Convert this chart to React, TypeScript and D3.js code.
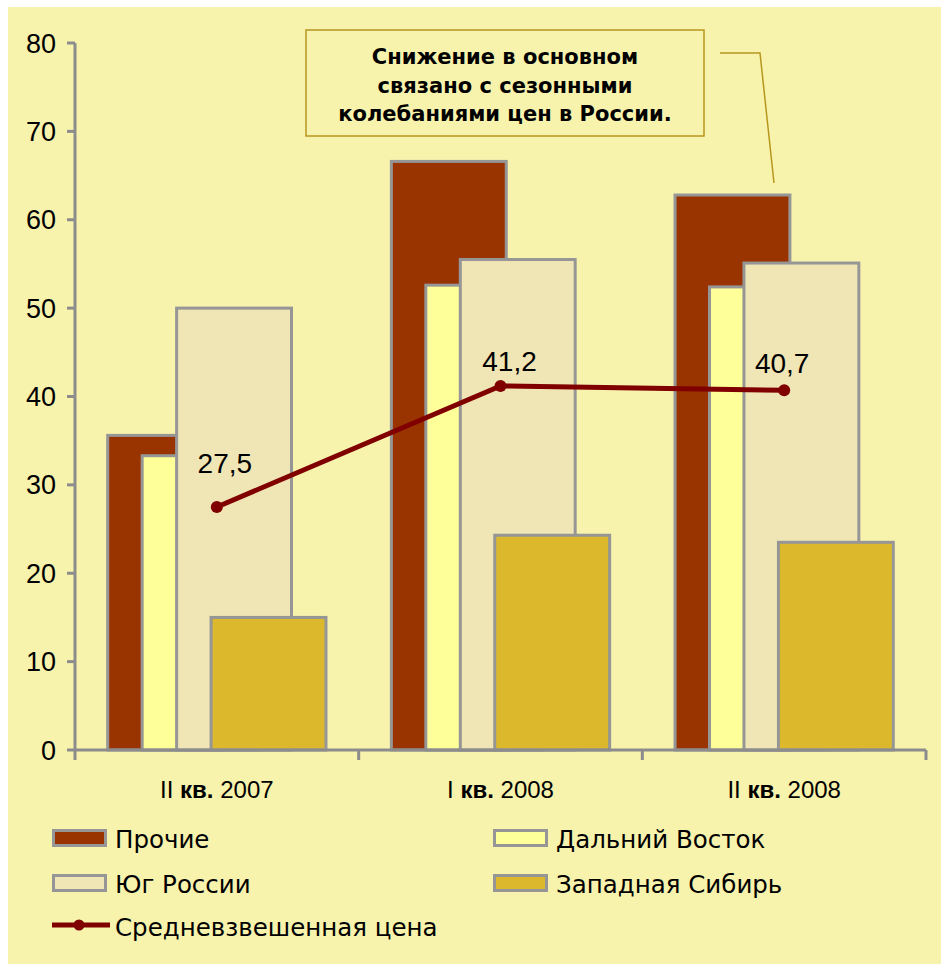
import React from "react";
import * as d3 from "d3";

const categories = ["II кв. 2007", "I кв. 2008", "II кв. 2008"];
const catPrefix = ["II ", "I ", "II "];
const catYear = [" 2007", " 2008", " 2008"];
const seriesNames = ["Прочие", "Дальний Восток", "Юг России", "Западная Сибирь"];
const prochie = [35.6, 66.6, 62.8];
const dalniy = [33.3, 52.6, 52.4];
const yug = [50.0, 55.5, 55.1];
const zapSib = [15.0, 24.3, 23.5];
const avgPrice = [27.5, 41.2, 40.7];
const avgLabels = ["27,5", "41,2", "40,7"];
const lineName = "Средневзвешенная цена";
const yTicks = [0, 10, 20, 30, 40, 50, 60, 70, 80];
const noteLines = ["Снижение в основном", "связано с сезонными", "колебаниями цен в России."];

const colors = ["#993300", "#FFFF99", "#F0E5B4", "#DCB92C"];
const labelDx = [8, 9, -2];
const labelDy = [34, 15, 17];

export default function App() {
  const W = 941, H = 964;
  const x = d3.scaleBand<string>().domain(categories).range([75, 926]).padding(0);
  const y = d3.scaleLinear().domain([0, 80]).range([750, 43]);
  const band = x.bandwidth();
  const bw = band * 0.405;
  const step = bw * 0.3;
  const groupW = bw + 3 * step;
  const series = [prochie, dalniy, yug, zapSib];
  const barX = (ci: number, si: number) => (x(categories[ci]) as number) + (band - groupW) / 2 + si * step;
  const cx = (ci: number) => (x(categories[ci]) as number) + band / 2;
  const line = d3.line<number>().x((_, i) => cx(i)).y((d) => y(d));
  const gray = "#969696";
  const axisGray = "#8C8C8C";
  const num = "'Liberation Sans', Arial, sans-serif";
  const leg = "'DejaVu Sans', sans-serif";

  const legendItems = [
    { name: seriesNames[0], color: colors[0], lx: 52, ly: 838 },
    { name: seriesNames[1], color: colors[1], lx: 493, ly: 838 },
    { name: seriesNames[2], color: colors[2], lx: 52, ly: 883 },
    { name: seriesNames[3], color: colors[3], lx: 493, ly: 883 },
  ];

  return (
    <svg width={W} height={H} style={{ position: "absolute", left: 0, top: 0, display: "block" }}>
      <rect x={0} y={0} width={W} height={H} fill="#ffffff" />
      <rect x={8} y={7} width={933} height={957} fill="#F7F2AC" />

      {/* bars */}
      {series.map((vals, si) =>
        vals.map((v, ci) => (
          <rect
            key={`${si}-${ci}`}
            x={barX(ci, si)}
            y={y(v)}
            width={bw}
            height={y(0) - y(v)}
            fill={colors[si]}
            stroke={gray}
            strokeWidth={3}
          />
        ))
      )}

      {/* axes */}
      <g stroke={axisGray} strokeWidth={3} fill="none">
        <line x1={75} x2={75} y1={y(80)} y2={y(0)} />
        {yTicks.map((t) => (
          <line key={t} x1={67} x2={75} y1={y(t)} y2={y(t)} />
        ))}
        <line x1={75} x2={926} y1={y(0)} y2={y(0)} />
        {[...categories.map((c) => x(c) as number), 926].map((tx, i) => (
          <line key={i} x1={tx} x2={tx} y1={y(0)} y2={y(0) + 10} />
        ))}
      </g>
      {yTicks.map((t) => (
        <text key={t} x={56} y={y(t) + 9.5} textAnchor="end" fontFamily={num} fontSize={27} fill="#000">
          {t}
        </text>
      ))}
      {categories.map((c, i) => (
        <text key={c} x={cx(i)} y={798} textAnchor="middle" fontFamily={num} fontSize={24} fill="#000">
          {catPrefix[i]}
          <tspan fontWeight="bold">кв.</tspan>
          {catYear[i]}
        </text>
      ))}

      {/* line */}
      <path d={line(avgPrice) || ""} fill="none" stroke="#800000" strokeWidth={5} />
      {avgPrice.map((v, i) => (
        <circle key={i} cx={cx(i)} cy={y(v)} r={6} fill="#800000" />
      ))}
      {avgPrice.map((v, i) => (
        <text key={i} x={cx(i) + labelDx[i]} y={y(v) - labelDy[i]} textAnchor="middle" fontFamily={num} fontSize={28} fill="#000">
          {avgLabels[i]}
        </text>
      ))}

      {/* annotation */}
      <rect x={306} y={30} width={398} height={106} fill="#F7F2AC" stroke="#B8961E" strokeWidth={1.5} />
      {noteLines.map((l, i) => (
        <text key={i} x={505} y={64 + i * 28.5} textAnchor="middle" fontFamily={leg} fontWeight="bold" fontSize={21} fill="#000">
          {l}
        </text>
      ))}
      <polyline points="720,53 760,53 774,183" fill="none" stroke="#B8961E" strokeWidth={1.5} />

      {/* legend */}
      {legendItems.map((it) => (
        <g key={it.name}>
          <rect x={it.lx + 1.5} y={it.ly - 7.5} width={52} height={15} fill={it.color} stroke={gray} strokeWidth={3} />
          <text x={it.lx + 63} y={it.ly + 10} fontFamily={leg} fontSize={24.5} fill="#000">
            {it.name}
          </text>
        </g>
      ))}
      <line x1={52} x2={110} y1={925} y2={925} stroke="#800000" strokeWidth={5} />
      <circle cx={79} cy={925} r={5.5} fill="#800000" />
      <text x={115} y={936} fontFamily={leg} fontSize={24.5} fill="#000">
        {lineName}
      </text>
    </svg>
  );
}
